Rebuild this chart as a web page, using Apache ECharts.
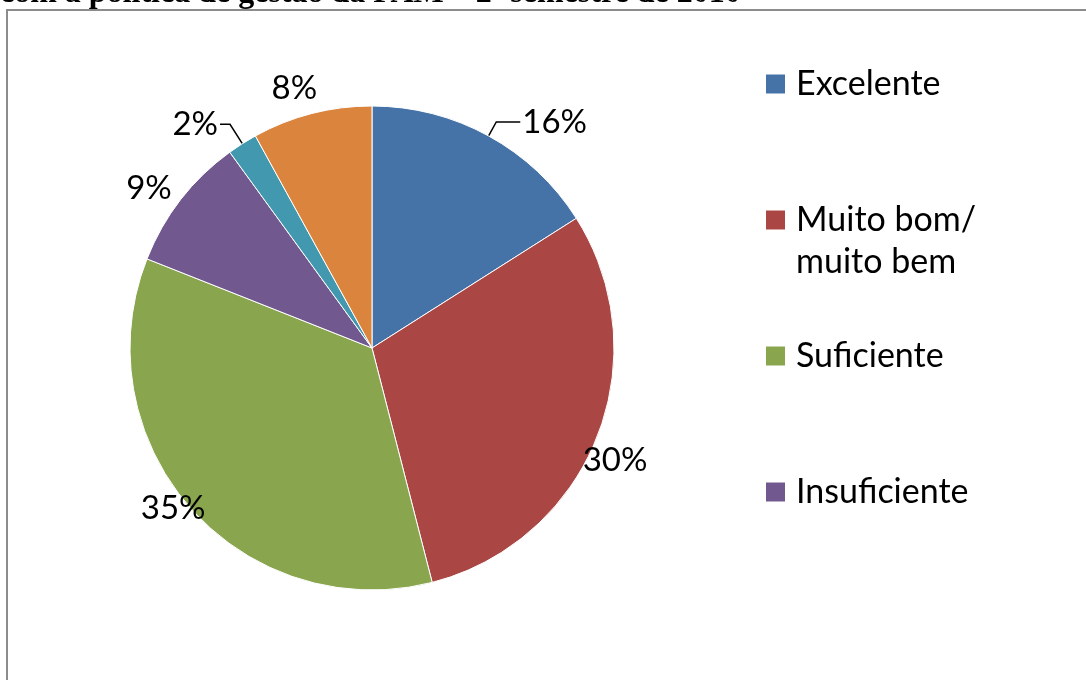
<!DOCTYPE html>
<html>
<head>
<meta charset="utf-8">
<script src="https://cdn.jsdelivr.net/npm/echarts@6/dist/echarts.min.js"></script>
<style>
  html, body { margin: 0; padding: 0; background: #fff; }
  #chart { width: 1086px; height: 680px; }
</style>
</head>
<body>
<div id="chart"></div>
<script>
// dados do gráfico
const categories = ['Excelente', 'Muito bom/ muito bem', 'Suficiente', 'Insuficiente', 'Sem resposta', 'Outros']
const percentages = [16, 30, 35, 9, 2, 8]
const legendItems = ['Excelente', 'Muito bom/ muito bem', 'Suficiente', 'Insuficiente']
const colors = ['#4572A7', '#AA4643', '#89A54E', '#71588F', '#4198AF', '#DB843D']

// posição dos rótulos (à moda do Excel): comprimento das linhas de ligação
const labelLines = [
  {show: true, length: 16, length2: 24},
  {show: false, length: 62, length2: -74},
  {show: false, length: 0, length2: -17},
  {show: false, length: 19, length2: -8},
  {show: true, length: 23, length2: 10},
  {show: false, length: 19, length2: 36}
]

const chart = echarts.init(document.getElementById('chart'))

const pieData = categories.map((name, i) => ({
  name: name,
  value: percentages[i],
  itemStyle: {color: colors[i]},
  labelLine: labelLines[i]
}))

chart.setOption({
  animation: false,
  title: {
    text: 'com a política de gestão da FAM – 2º semestre de 2010',
    left: 0,
    top: -22,
    padding: 0,
    textStyle: {fontFamily: 'Liberation Serif', fontWeight: 'bold', fontSize: 32, color: '#000'}
  },
  graphic: [
    {
      type: 'rect',
      z: -10,
      silent: true,
      shape: {x: 7, y: 10, width: 1100, height: 700},
      style: {fill: '#fff', stroke: '#8c8c8c', lineWidth: 2}
    },
    {
      // segunda linha da legenda "Muito bom/ muito bem"
      type: 'text',
      left: 796,
      top: 245,
      silent: true,
      style: {text: 'muito bem', fontFamily: 'Lato', fontSize: 34, fill: '#000'}
    }
  ],
  legend: {
    orient: 'vertical',
    left: 764,
    top: 66,
    padding: 0,
    data: legendItems,
    icon: 'rect',
    itemWidth: 21,
    itemHeight: 21,
    itemGap: 100,
    selectedMode: false,
    formatter: (name) => name === 'Muito bom/ muito bem' ? 'Muito bom/' : name,
    textStyle: {fontFamily: 'Lato', fontSize: 34, color: '#000', lineHeight: 36, padding: [0, 0, 0, 5]}
  },
  series: [
    {
      type: 'pie',
      center: [372, 348],
      radius: 242,
      startAngle: 90,
      clockwise: true,
      silent: true,
      avoidLabelOverlap: false,
      itemStyle: {borderColor: '#fff', borderWidth: 1},
      label: {
        show: true,
        position: 'outside',
        formatter: '{c}%',
        fontFamily: 'Lato',
        fontSize: 33,
        color: '#000',
        distanceToLabelLine: 2
      },
      labelLine: {lineStyle: {color: '#000', width: 1.5}},
      // pequeno ajuste do rótulo "8%" junto ao topo
      labelLayout: (params) => params.dataIndex === 5 ? {dx: 48, dy: -7} : {},
      data: pieData
    }
  ]
})
</script>
</body>
</html>
